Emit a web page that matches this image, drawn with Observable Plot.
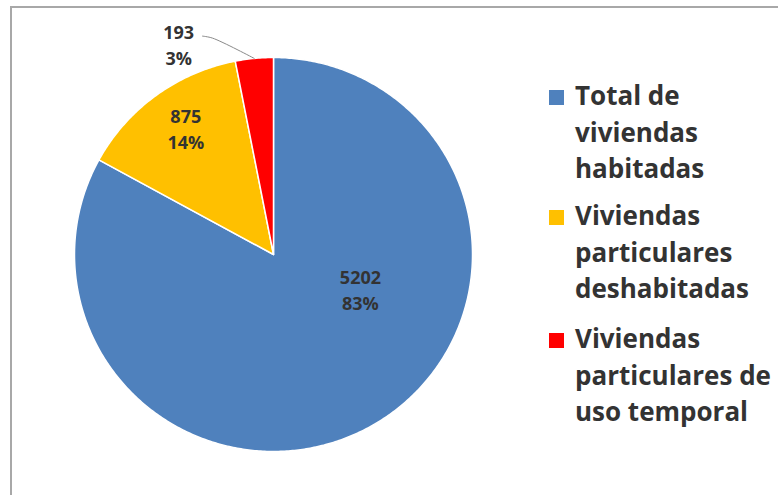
<!DOCTYPE html>
<html>
<head>
<meta charset="utf-8">
<script src="https://cdn.jsdelivr.net/npm/d3@7"></script>
<script src="https://cdn.jsdelivr.net/npm/@observablehq/plot@0.6"></script>
<style>
  html, body { margin: 0; padding: 0; background: #fff; }
  #wrap { position: relative; width: 778px; height: 495px; overflow: hidden; background: #fff; }
  #frame { position: absolute; left: 10px; top: 6px; width: 800px; height: 520px;
           border-top: 2px solid #a8a8a8; border-left: 2px solid #a8a8a8; }
  #chart { position: absolute; left: 0; top: 0; }
  #legend { position: absolute; left: 549px; top: 0; font-family: "Open Sans", sans-serif;
            font-weight: 700; font-size: 26px; line-height: 36.5px; color: #333; }
  .item { position: absolute; left: 0; white-space: nowrap; }
  .sw { position: absolute; left: 0; width: 15px; height: 15px; }
  .lab { position: absolute; left: 26px; top: 0; }
</style>
</head>
<body>
<div id="wrap">
  <div id="frame"></div>
  <div id="chart"></div>
  <div id="legend"></div>
</div>
<script>
// ---- data ----
const categories = [
  "Total de viviendas habitadas",
  "Viviendas particulares deshabitadas",
  "Viviendas particulares de uso temporal"
];
const legendLines = [
  ["Total de", "viviendas", "habitadas"],
  ["Viviendas", "particulares", "deshabitadas"],
  ["Viviendas", "particulares de", "uso temporal"]
];
const values = [5202, 875, 193];
const colors = ["#4F81BD", "#FFC000", "#FF0000"];

// ---- layout ----
const W = 778, H = 495;
const total = d3.sum(values);
const arcs = d3.pie().sort(null).value(d => d)(values);

// polygon points for each slice (x = sin, y = cos, clockwise from top)
const pts = [];
arcs.forEach((a, i) => {
  const n = Math.max(4, Math.ceil((a.endAngle - a.startAngle) / 0.01));
  pts.push({name: categories[i], color: colors[i], x: 0, y: 0});
  for (let k = 0; k <= n; k++) {
    const t = a.startAngle + (a.endAngle - a.startAngle) * k / n;
    pts.push({name: categories[i], color: colors[i], x: Math.sin(t), y: Math.cos(t)});
  }
  pts.push({name: categories[i], color: colors[i], x: 0, y: 0});
});

// label placement (angle shift in degrees, radius fraction), Excel-like
const labelPlace = [[-37.7, 0.47], [1.8, 0.78], [-18.5, 1.17]];
const labels = arcs.map((a, i) => {
  const mid = (a.startAngle + a.endAngle) / 2 + labelPlace[i][0] * Math.PI / 180;
  const r = labelPlace[i][1];
  return {
    x: r * Math.sin(mid), y: r * Math.cos(mid),
    text: `${values[i]}\n${Math.round(values[i] / total * 100)}%`
  };
});

// leader line for the small (outside) slice
const red = arcs[2];
const redMid = (red.startAngle + red.endAngle) / 2;
const L = labels[2];
const leader = [
  {x: L.x + 0.12, y: L.y + 0.04},
  {x: L.x + 0.17, y: L.y + 0.03},
  {x: Math.sin(redMid), y: Math.cos(redMid)}
];

const chart = Plot.plot({
  width: W, height: H,
  margin: 0,
  x: {domain: [-1, 1], range: [74, 472], axis: null},
  y: {domain: [-1, 1], range: [451, 57], axis: null},
  color: {type: "identity"},
  style: {background: "transparent", fontFamily: "'Open Sans', sans-serif"},
  marks: [
    Plot.line(pts, {x: "x", y: "y", z: "name", fill: "color", stroke: "white",
                    strokeWidth: 1.5, strokeLinejoin: "round", curve: "linear"}),
    Plot.line(leader, {x: "x", y: "y", stroke: "#8a8a8a", strokeWidth: 1, curve: "catmull-rom"}),
    Plot.text(labels, {x: "x", y: "y", text: "text", fill: "#333", fontWeight: "bold",
                       fontSize: 18, lineHeight: 1.45})
  ]
});
document.getElementById("chart").appendChild(chart);

// legend
const legendTops = [77, 197, 320];
const lg = document.getElementById("legend");
legendLines.forEach((lines, i) => {
  const it = document.createElement("div");
  it.className = "item";
  it.style.top = legendTops[i] + "px";
  const sw = document.createElement("div");
  sw.className = "sw";
  sw.style.background = colors[i];
  sw.style.top = "13px";
  it.appendChild(sw);
  const lab = document.createElement("div");
  lab.className = "lab";
  lab.innerHTML = lines.join("<br>");
  it.appendChild(lab);
  lg.appendChild(it);
});
</script>
</body>
</html>
